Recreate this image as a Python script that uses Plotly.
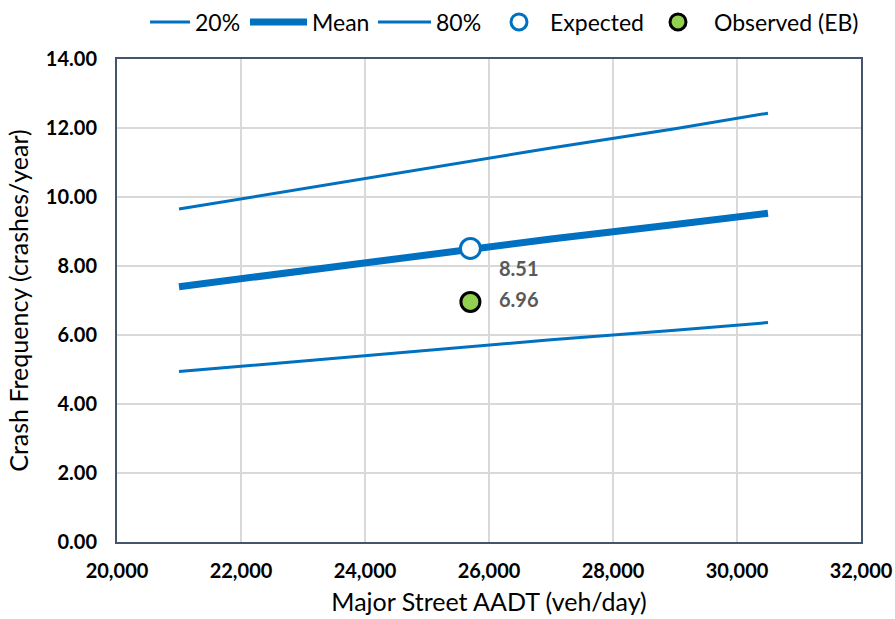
import plotly.graph_objects as go

# Data
aadt = [21000, 23000, 25000, 25700, 27000, 29000, 30500]
mean_vals = [7.40, 7.87, 8.32, 8.51, 8.78, 9.20, 9.53]
p20_vals = [4.94, 5.25, 5.55, 5.66, 5.86, 6.14, 6.36]
p80_vals = [9.65, 10.24, 10.83, 11.04, 11.42, 11.98, 12.43]

exp_x = [25700]
exp_y = [8.51]
obs_x = [25700]
obs_y = [6.96]

x_ticks = [20000, 22000, 24000, 26000, 28000, 30000, 32000]
y_ticks = [0, 2, 4, 6, 8, 10, 12, 14]

blue = "#0070C0"
font_family = "Lato, 'Open Sans', sans-serif"
W, H = 895, 619

fig = go.Figure()
fig.add_trace(go.Scatter(x=aadt, y=p20_vals, mode="lines", name="20%",
                         legend="legend", line=dict(color=blue, width=3)))
fig.add_trace(go.Scatter(x=aadt, y=mean_vals, mode="lines", name="Mean",
                         legend="legend2", line=dict(color=blue, width=7)))
fig.add_trace(go.Scatter(x=aadt, y=p80_vals, mode="lines", name="80%",
                         legend="legend3", line=dict(color=blue, width=3)))
fig.add_trace(go.Scatter(x=exp_x, y=exp_y, mode="markers", name="Expected",
                         legend="legend4",
                         marker=dict(size=20, color="white",
                                     line=dict(color=blue, width=3))))
fig.add_trace(go.Scatter(x=obs_x, y=obs_y, mode="markers", name="Observed (EB)",
                         legend="legend5",
                         marker=dict(size=19, color="#92D050",
                                     line=dict(color="black", width=3))))

for xv, yv, ys in [(exp_x[0], exp_y[0], -20), (obs_x[0], obs_y[0], 3)]:
    fig.add_annotation(x=xv, y=yv, text=f"{yv:.2f}", showarrow=False,
                       xanchor="left", yanchor="middle", xshift=27, yshift=ys,
                       font=dict(size=20, color="#595959", family=font_family,
                                 weight="bold"))


def leg(px, iw):
    return dict(orientation="h", xref="container", x=px / W, xanchor="left",
                yref="container", y=1 - 22 / H, yanchor="middle", itemwidth=iw,
                font=dict(size=23, color="black"), bgcolor="rgba(0,0,0,0)")


fig.update_layout(
    width=W, height=H,
    margin=dict(l=117, r=34, t=59, b=77, autoexpand=False),
    plot_bgcolor="white", paper_bgcolor="white",
    font=dict(family=font_family, color="black"),
    showlegend=True,
    legend=leg(145, 40), legend2=leg(245, 57), legend3=leg(373, 53),
    legend4=leg(488, 52), legend5=leg(642, 62),
    xaxis=dict(range=[20000, 32000], tickvals=x_ticks, tickformat=",d",
               showgrid=True, gridcolor="#D9D9D9", gridwidth=2,
               showline=True, linecolor="#44546A", linewidth=2, mirror=True,
               zeroline=False, ticks="", ticklabelstandoff=10,
               tickfont=dict(size=20, family=font_family, weight="bold", color="black"),
               title=dict(text="Major Street AADT (veh/day)",
                          font=dict(size=25, color="black"), standoff=12)),
    yaxis=dict(range=[0, 14], tickvals=y_ticks, tickformat=".2f",
               showgrid=True, gridcolor="#D9D9D9", gridwidth=2,
               showline=True, linecolor="#44546A", linewidth=2, mirror=True,
               zeroline=False, ticks="", ticklabelstandoff=14,
               tickfont=dict(size=20, family=font_family, weight="bold", color="black"),
               title=dict(text="Crash Frequency (crashes/year)",
                          font=dict(size=25, color="black"), standoff=10)),
)

fig.write_html(
    "out.html",
    config={"displayModeBar": False},
    post_script="document.body.style.margin='0';document.body.style.overflow='hidden';",
)
